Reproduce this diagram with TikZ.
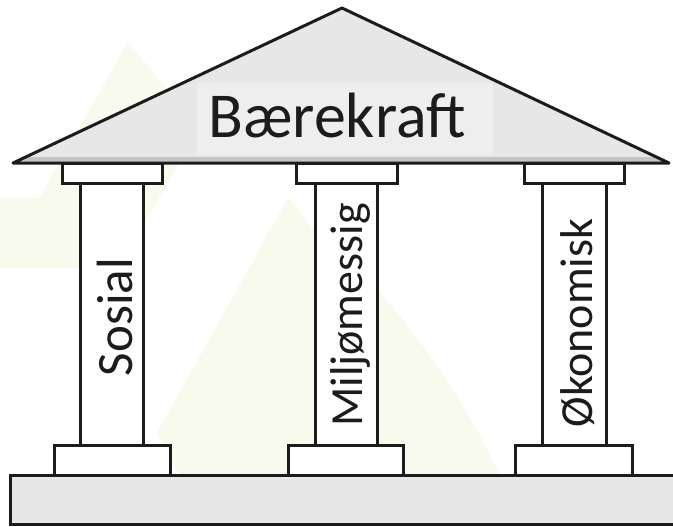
\documentclass[tikz,border=0pt]{standalone}
\usepackage{fontspec}
\setmainfont{Carlito}
\definecolor{roofgray}{RGB}{231,231,231}
\definecolor{boxgray}{RGB}{238,238,238}
\definecolor{shadegray}{RGB}{196,196,196}
\definecolor{pale}{RGB}{248,250,237}
\definecolor{edge}{RGB}{28,28,28}
\begin{document}
\begin{tikzpicture}[x=1pt,y=-1pt,
  part/.style={draw=edge, line width=3pt, fill=white},
  slab/.style={draw=edge, line width=3pt, fill=roofgray},
  pillartext/.style={rotate=90, anchor=base, inner sep=0pt, text=edge},
]
\useasboundingbox (0,0) rectangle (673,527);
% faint watermark
\fill[pale] (128,42) -- (172,95) -- (178,165) -- (143,225) -- (80,268) -- (0,268) -- (0,197) -- (40,197) -- cycle;
\fill[pale] (157,433) -- (288,198) -- (312,228) -- (378,290) .. controls (430,350) and (470,410) .. (500,476) -- (180,476) -- cycle;
% plinth and bases
\path[slab] (10,475) rectangle (676,524);
\path[part] (54,445) rectangle (170,475);
\path[part] (288,445) rectangle (403,475);
\path[part] (515,445) rectangle (632,475);
% columns
\path[part] (80,183) rectangle (143,445);
\path[part] (315,183) rectangle (377,445);
\path[part] (542,183) rectangle (606,445);
% capitals
\path[part] (62,163) rectangle (162,183);
\path[part] (296,163) rectangle (397,183);
\path[part] (524,163) rectangle (624,183);
% roof
\fill[roofgray] (13,163) -- (342,8) -- (669,163) -- cycle;
\fill[shadegray] (26,157) -- (656,157) -- (669,163) -- (13,163) -- cycle;
\fill[boxgray] (197,83) rectangle (493,155);
\draw[edge, line width=3pt, line join=round] (13,163) -- (342,8) -- (669,163) -- cycle;
% texts
\node[anchor=base, inner sep=0pt, text=edge, font=\fontsize{64}{64}\selectfont] (title) at (337,138) {Bærekraft};
\node[pillartext, font=\fontsize{51}{51}\selectfont] (sosial) at (132,317) {Sosial};
\node[pillartext, font=\fontsize{46}{46}\selectfont] (miljo) at (362,315) {Miljømessig};
\node[pillartext, font=\fontsize{46}{46}\selectfont] (okonomi) at (592,323) {Økonomisk};
\end{tikzpicture}
\end{document}
